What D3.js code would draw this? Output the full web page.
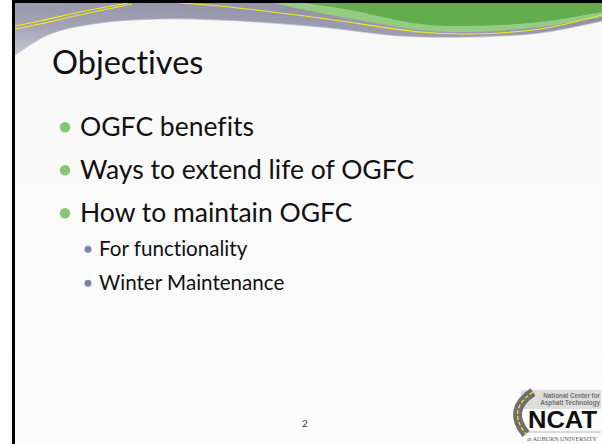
<!DOCTYPE html>
<html>
<head>
<meta charset="utf-8">
<script src="https://cdn.jsdelivr.net/npm/d3@7"></script>
<style>
  body { margin: 0; background: #fff; }
  svg { display: block; }
  text { font-variant-ligatures: none; font-feature-settings: "liga" 0, "dlig" 0; }
</style>
</head>
<body>
<script>
// slide content
var titleText = "Objectives";
var bulletTexts = ["OGFC benefits", "Ways to extend life of OGFC", "How to maintain OGFC",
                   "For functionality", "Winter Maintenance"];
var bulletLevels = [1, 1, 1, 2, 2];
var pageNumber = "2";
var logoLines = ["National Center for", "Asphalt Technology"];
var logoName = "NCAT";
var logoFooter = "at AUBURN UNIVERSITY";

var width = 602, height = 444;

var svg = d3.select("body").append("svg")
  .attr("width", width)
  .attr("height", height);

var defs = svg.append("defs");
var grayGrad = defs.append("linearGradient")
  .attr("id", "grayGrad")
  .attr("x1", "0%").attr("y1", "100%")
  .attr("x2", "60%").attr("y2", "0%");
grayGrad.append("stop").attr("offset", "0%").attr("stop-color", "#d2d2da");
grayGrad.append("stop").attr("offset", "45%").attr("stop-color", "#a4a4b6");
grayGrad.append("stop").attr("offset", "100%").attr("stop-color", "#9090a6");

var paperGrad = defs.append("linearGradient")
  .attr("id", "paperGrad")
  .attr("x1", "0%").attr("y1", "0%")
  .attr("x2", "0%").attr("y2", "100%");
paperGrad.append("stop").attr("offset", "0%").attr("stop-color", "#f8f8f8");
paperGrad.append("stop").attr("offset", "100%").attr("stop-color", "#fcfcfc");

var curve = d3.line().curve(d3.curveCatmullRom.alpha(0.5));

// header band (gray), slide starts at x=15, y=3
svg.append("rect")
  .attr("x", 15).attr("y", 3)
  .attr("width", width - 15).attr("height", 60)
  .attr("fill", "url(#grayGrad)");

// white content area with curved top
var paperTop = [[15, 55], [50, 34], [100, 23], [160, 19], [220, 20], [320, 27],
                [400, 36], [470, 37], [540, 33], [602, 21]];
svg.append("path")
  .attr("d", curve(paperTop) + "L602,444L15,444Z")
  .attr("fill", "url(#paperGrad)");
// soft edge under band
svg.append("path")
  .attr("d", curve(paperTop))
  .attr("fill", "none")
  .attr("stroke", "#b8b8c6")
  .attr("stroke-width", 1.2)
  .attr("opacity", 0.6);

// green swoosh
var lightGreen = [[273, 3], [320, 13], [370, 22], [420, 30], [470, 32], [540, 27], [602, 17]];
var darkGreen = [[305, 3], [350, 10], [420, 24], [470, 26], [540, 22], [602, 12]];
svg.append("path")
  .attr("d", curve(lightGreen) + "L602,3Z")
  .attr("fill", "#94cc84");
svg.append("path")
  .attr("d", curve(darkGreen) + "L602,3Z")
  .attr("fill", "#63ad4e");

// yellow pin lines
var yellowRight = [[180, 3], [220, 6], [320, 18], [420, 32], [470, 34], [540, 29], [602, 15]];
var yellowLeft1 = [[15, 26], [40, 21], [80, 12], [128, 3]];
var yellowLeft2 = [[15, 29], [40, 24], [80, 15], [132, 4]];
[yellowRight, yellowLeft1, yellowLeft2].forEach(function(pts) {
  svg.append("path")
    .attr("d", curve(pts))
    .attr("fill", "none")
    .attr("stroke", "#f0ec1c")
    .attr("stroke-width", 1.1);
});

// frame: black top and left edges
svg.append("rect").attr("x", 12).attr("y", 0).attr("width", width - 12).attr("height", 3).attr("fill", "#000");
svg.append("rect").attr("x", 12).attr("y", 0).attr("width", 3).attr("height", height).attr("fill", "#000");

// title
svg.append("text")
  .attr("x", 52).attr("y", 74)
  .attr("font-family", "Lato, sans-serif")
  .attr("font-size", 32.5)
  .attr("fill", "#111")
  .text(titleText);

// bullets
var fontSize = d3.scaleOrdinal().domain([1, 2]).range([26.5, 20.6]);
var textX = d3.scaleOrdinal().domain([1, 2]).range([80, 99]);
var dotX = d3.scaleOrdinal().domain([1, 2]).range([65, 88]);
var dotR = d3.scaleOrdinal().domain([1, 2]).range([5.2, 3.5]);
var dotColor = d3.scaleOrdinal().domain([1, 2]).range(["#84c673", "#7c82b2"]);
var gapBefore = d3.scaleOrdinal().domain([1, 2]).range([43, 34]);

var rows = [];
var y = 136;
bulletTexts.forEach(function(t, i) {
  if (i > 0) y += gapBefore(bulletLevels[i]);
  rows.push({text: t, level: bulletLevels[i], y: y});
});

var row = svg.selectAll(".bullet")
  .data(rows)
  .enter().append("g")
  .attr("class", "bullet");

row.append("circle")
  .attr("cx", function(d) { return dotX(d.level); })
  .attr("cy", function(d) { return d.y - fontSize(d.level) * 0.33; })
  .attr("r", function(d) { return dotR(d.level); })
  .attr("fill", function(d) { return dotColor(d.level); });

row.append("text")
  .attr("x", function(d) { return textX(d.level); })
  .attr("y", function(d) { return d.y; })
  .attr("font-family", "Lato, sans-serif")
  .attr("font-size", function(d) { return fontSize(d.level); })
  .attr("fill", "#111")
  .text(function(d) { return d.text; });

// page number
svg.append("text")
  .attr("x", 305).attr("y", 427)
  .attr("text-anchor", "middle")
  .attr("font-family", "Lato, sans-serif")
  .attr("font-size", 10)
  .attr("fill", "#333")
  .text(pageNumber);

// NCAT logo
var logo = svg.append("g");
logo.append("rect")
  .attr("x", 521).attr("y", 390)
  .attr("width", 80).attr("height", 19)
  .attr("fill", "#dedede");
logo.append("path")
  .attr("d", "M533,392 Q506,410 526,434")
  .attr("fill", "none")
  .attr("stroke", "#6e6e6e")
  .attr("stroke-width", 9);
logo.append("path")
  .attr("d", "M533,392 Q506,410 526,434")
  .attr("fill", "none")
  .attr("stroke", "#f2e21a")
  .attr("stroke-width", 1.3)
  .attr("stroke-dasharray", "4,2");
logo.selectAll(".logoLine")
  .data(logoLines)
  .enter().append("text")
  .attr("class", "logoLine")
  .attr("x", 600)
  .attr("y", function(d, i) { return 397.5 + i * 7.5; })
  .attr("text-anchor", "end")
  .attr("font-family", "Liberation Sans, Arial, sans-serif")
  .attr("font-weight", "bold")
  .attr("font-size", 6.3)
  .attr("fill", "#707070")
  .text(function(d) { return d; });
logo.append("text")
  .attr("x", 528).attr("y", 428)
  .attr("font-family", "Liberation Sans, Arial, sans-serif")
  .attr("font-weight", "bold")
  .attr("font-size", 24.5)
  .attr("textLength", 69)
  .attr("lengthAdjust", "spacingAndGlyphs")
  .attr("fill", "#111")
  .text(logoName);
logo.append("line")
  .attr("x1", 528).attr("x2", 601)
  .attr("y1", 432).attr("y2", 432)
  .attr("stroke", "#9a9a9a")
  .attr("stroke-width", 0.7);
logo.append("text")
  .attr("x", 527).attr("y", 441)
  .attr("font-family", "Liberation Serif, serif")
  .attr("font-size", 6.5)
  .attr("textLength", 70)
  .attr("lengthAdjust", "spacingAndGlyphs")
  .attr("fill", "#555")
  .text(logoFooter);
</script>
</body>
</html>
